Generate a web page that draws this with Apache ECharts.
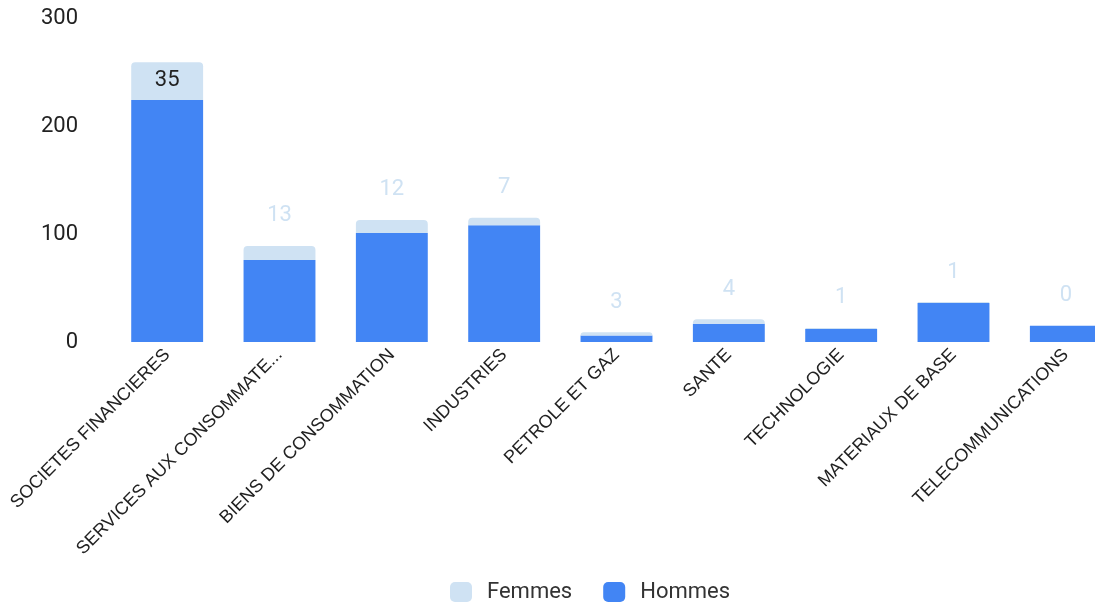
<!DOCTYPE html>
<html>
<head>
<meta charset="utf-8">
<script src="https://cdn.jsdelivr.net/npm/echarts@6/dist/echarts.min.js"></script>
<style>
html,body{margin:0;padding:0;background:#fff;}
#chart{width:1095px;height:605px;}
</style>
</head>
<body>
<div id="chart"></div>
<script>
const categories = ["SOCIETES FINANCIERES","SERVICES AUX CONSOMMATE...","BIENS DE CONSOMMATION","INDUSTRIES","PETROLE ET GAZ","SANTE","TECHNOLOGIE","MATERIAUX DE BASE","TELECOMMUNICATIONS"];
const hommes = [224, 76, 101, 108, 6, 17, 12, 36, 15];
const femmes = [35, 13, 12, 7, 3, 4, 1, 1, 0];
const yTicks = [0, 100, 200, 300];

const chart = echarts.init(document.getElementById('chart'));
const femmesData = femmes.map((v, i) => {
  if (i === 0) {
    return { value: v, label: { position: 'insideTop', distance: 7, color: '#222' } };
  }
  return v;
});
chart.setOption({
  animation: false,
  grid: { left: 111, width: 1011, top: 18, height: 324, containLabel: false, outerBoundsMode: 'none' },
  legend: {
    top: 576,
    left: 445,
    itemWidth: 22,
    itemHeight: 20,
    itemGap: 31,
    icon: 'roundRect',
    textStyle: { fontFamily: 'Roboto', fontSize: 22, color: '#333', padding: [0, 0, 0, 10] },
    data: ['Femmes', 'Hommes']
  },
  xAxis: {
    type: 'category',
    data: categories,
    axisLine: { show: false },
    axisTick: { show: false },
    axisLabel: {
      interval: 0,
      rotate: 45,
      margin: 10,
      fontFamily: 'Liberation Sans',
      fontSize: 18,
      color: '#222'
    }
  },
  yAxis: {
    type: 'value',
    min: 0,
    max: 300,
    interval: 100,
    splitLine: { show: false },
    axisLine: { show: false },
    axisTick: { show: false },
    axisLabel: {
      margin: 33,
      fontFamily: 'Roboto',
      fontSize: 22,
      color: '#222',
      formatter: v => yTicks.includes(v) ? String(v) : ''
    }
  },
  series: [
    {
      name: 'Hommes',
      type: 'bar',
      stack: 'total',
      barWidth: '64%',
      itemStyle: { color: '#4285f4' },
      data: hommes
    },
    {
      name: 'Femmes',
      type: 'bar',
      stack: 'total',
      barWidth: '64%',
      itemStyle: { color: '#cfe2f3', borderRadius: [4, 4, 0, 0] },
      label: {
        show: true,
        position: 'top',
        distance: 19,
        fontFamily: 'Roboto',
        fontSize: 22,
        color: '#cfe2f3'
      },
      data: femmesData
    }
  ]
});
</script>
</body>
</html>
